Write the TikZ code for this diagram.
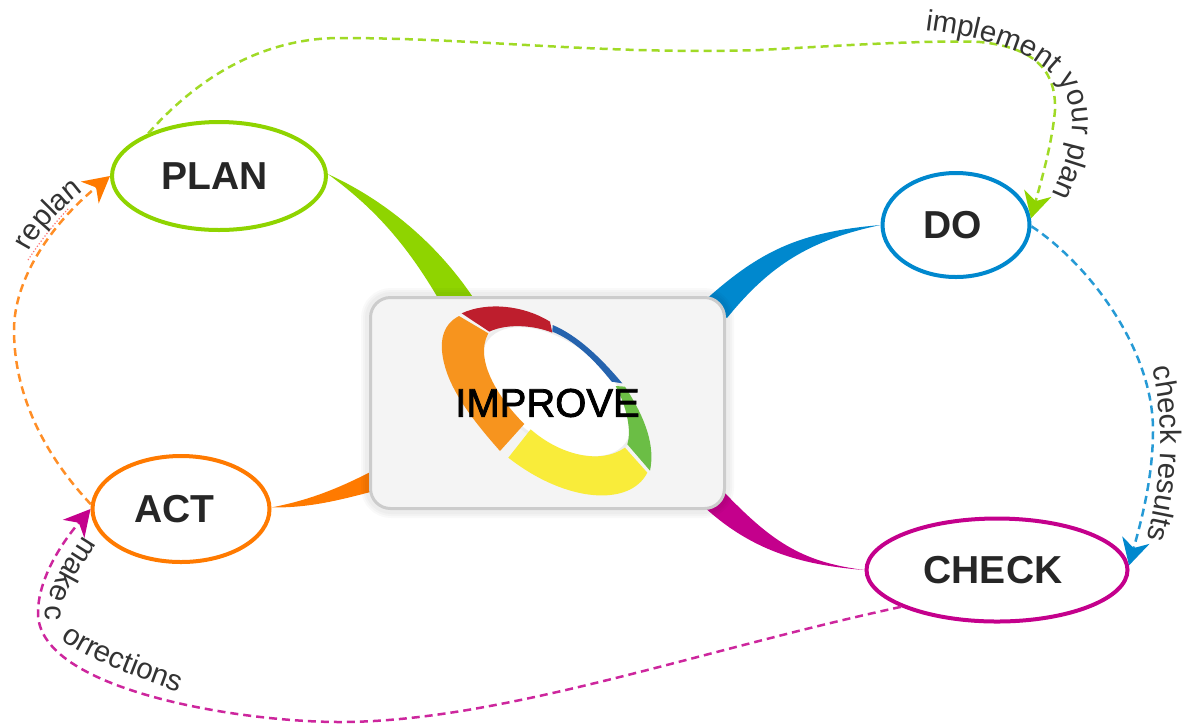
\documentclass[tikz,border=0pt]{standalone}
\usepackage{xcolor}
\usepackage{tikz}
\usepackage{fontspec}
\setmainfont{Liberation Sans}
\newfontfamily\improvefont[FakeBold=2]{Liberation Sans}
\usetikzlibrary{arrows.meta}
\usetikzlibrary{positioning}
\usetikzlibrary{shapes}
\usetikzlibrary{backgrounds}
\usetikzlibrary{decorations.text}

\definecolor{plangreen}{HTML}{8FD400}
\definecolor{dogblue}{HTML}{0088CE}
\definecolor{actorange}{HTML}{FF7A00}
\definecolor{checkpink}{HTML}{C4008C}
\definecolor{ringred}{HTML}{BE1E2D}
\definecolor{ringorange}{HTML}{F7941E}
\definecolor{ringyellow}{HTML}{F9EC3A}
\definecolor{ringgreen}{HTML}{6BBE45}
\definecolor{ringblue}{HTML}{2563AE}

\newcommand{\stagefont}{\fontsize{39}{39}\selectfont\bfseries}
\newcommand{\pathfont}{\fontsize{29.5}{29.5}\selectfont}

\tikzset{
  stage/.style={ellipse, draw=#1, line width=4pt, fill=white, inner sep=0pt, text=black!85, font=\stagefont},
  flow/.style={dashed, dash pattern=on 8pt off 5pt, line width=2.5pt, color=#1!85!white,
    -{Stealth[length=26pt, width=28pt, inset=8pt, color=#1]}},
  caption/.style={decorate, decoration={text along path, text color=black!80, text align=left, text={#1}}},
  halo/.style={draw=black, rounded corners=22pt, opacity=0.025, line width=#1},
}

\begin{document}
\begin{tikzpicture}[x=1pt, y=-1pt, on grid]
      \useasboundingbox (0,0) rectangle (1182,724);
      \node[rectangle, rounded corners=20pt, draw=black!20, line width=3pt, fill=black!4.5,
            minimum width=354pt, minimum height=211pt] (improve) at (547.5,403) {};
      \node[stage=plangreen, minimum width=214pt, minimum height=108pt]  (plan)  [above left=227pt and 328.5pt of improve]  {PLAN\kern9pt};
      \node[stage=dogblue, minimum width=147pt, minimum height=104pt]    (do)    [above right=178pt and 408.5pt of improve] {DO\kern6pt};
      \node[stage=actorange, minimum width=177pt, minimum height=106pt]  (act)   [below left=106pt and 366.5pt of improve]  {ACT\kern13pt};
      \node[stage=checkpink, minimum width=261pt, minimum height=103pt]  (check) [below right=167pt and 449.5pt of improve] {CHECK\kern8pt};

      \begin{scope}[on background layer]
        \fill[plangreen] (plan.1) .. controls (385,200) and (440,245) .. (478,305)
          -- (442,305) .. controls (405,240) and (370,205) .. (plan.1);
        \fill[dogblue] (do.180) .. controls (800,232) and (760,250) .. (702,303)
          -- (727,318) .. controls (770,265) and (810,240) .. (do.180);
        \fill[actorange] (act.1) .. controls (310,500) and (340,488) .. (378,468)
          -- (378,490) .. controls (340,500) and (310,508) .. (act.1);
        \fill[checkpink] (check.180) .. controls (800,562) and (770,540) .. (722,490)
          -- (702,505) .. controls (750,550) and (800,565) .. (check.180);
        \foreach \w in {8pt,12pt,16pt}
          \draw[halo=\w] (improve.north west) rectangle (improve.south east);
      \end{scope}

      \begin{scope}[shift={(360,280)}, scale=1/3]
        \fill[white, draw=black!7, line width=3pt] (590,335) ellipse [x radius=262, y radius=150, rotate=-37];
        \fill[ringred] (305,100) .. controls (380,65) and (490,75) .. (570,125) -- (577,158)
          .. controls (520,135) and (440,130) .. (388,155) -- cycle;
        \fill[ringorange] (297,108) .. controls (245,135) and (235,190) .. (255,260)
          .. controls (280,350) and (360,445) .. (420,513) -- (493,432)
          .. controls (420,360) and (340,240) .. (385,160) -- cycle;
        \fill[ringyellow] (512,448) .. controls (600,525) and (720,555) .. (795,503) -- (862,578)
          .. controls (810,680) and (620,670) .. (445,533) -- cycle;
        \fill[ringgreen] (767,318) -- (795,320) .. controls (860,420) and (885,500) .. (870,572)
          -- (802,493) .. controls (815,450) and (800,380) .. (767,318) -- cycle;
        \fill[ringblue] (578,135) .. controls (650,165) and (720,230) .. (787,310) -- (755,305)
          .. controls (700,235) and (640,180) .. (577,155) -- cycle;
      \end{scope}
      \node[font=\fontsize{40}{40}\selectfont\improvefont, text=black] (improvetext) at (improve.center) {IMPROVE};

      \draw[flow=plangreen] (plan.149) .. controls (200,75) and (265,38) .. (340,38)
        .. controls (480,38) and (600,55) .. (760,50) .. controls (850,45) and (930,40) .. (980,42)
        .. controls (1040,48) and (1056,75) .. (1055,110) .. controls (1052,145) and (1040,185) .. (do.5);
      \draw[flow=dogblue] (do.-1) .. controls (1090,265) and (1153,350) .. (1153,430)
        .. controls (1153,480) and (1140,525) .. (check.2);
      \draw[flow=checkpink] (check.201) .. controls (700,650) and (500,722) .. (340,722)
        .. controls (240,722) and (38,690) .. (38,613) .. controls (38,580) and (60,545) .. (act.180);
      \draw[flow=actorange] (act.177) .. controls (40,450) and (14,390) .. (14,330)
        .. controls (14,280) and (50,225) .. (plan.180);
      \draw[dotted, line width=1.2pt, color=red!40!pink] (28,260) .. controls (38,245) and (50,228) .. (68,209);

      \path[caption={|\pathfont|implement your plan}] (925,30) .. controls (985,38) and (1078,55) .. (1072,130)
        .. controls (1069,160) and (1055,190) .. (1030,240);
      \path[caption={|\pathfont|check results}] (1152,368) .. controls (1167,433) and (1162,493) .. (1137,573);
      \path[caption={|\pathfont|make c}] (83,535) .. controls (62,568) and (40,600) .. (46,622)
        .. controls (50,640) and (55,650) .. (70,665);
      \path[caption={|\pathfont|orrections}] (61,639) .. controls (85,658) and (130,675) .. (215,705);
      \path[caption={|\pathfont|replan}] (29,252) .. controls (41,229) and (61,207) .. (101,179);
    \end{tikzpicture}
\end{document}
